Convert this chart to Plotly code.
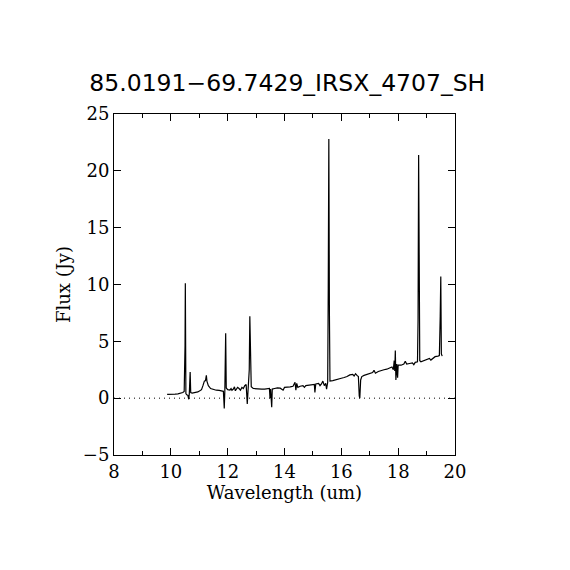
import plotly.graph_objects as go

# spectrum (wavelength in um, flux in Jy)
wave = [9.87, 9.95, 10.05, 10.15, 10.25, 10.35, 10.42, 10.47, 10.50, 10.51,
        10.52, 10.53, 10.56, 10.60, 10.63, 10.65, 10.68, 10.70, 10.75, 10.85,
        10.95, 11.02, 11.08, 11.13, 11.18, 11.22, 11.25, 11.27, 11.32, 11.40,
        11.50, 11.60, 11.70, 11.80, 11.85, 11.88, 11.90, 11.93, 11.95, 12.00,
        12.08, 12.12, 12.15, 12.20, 12.24, 12.27, 12.30, 12.35, 12.40, 12.45,
        12.50, 12.55, 12.60, 12.65, 12.69, 12.72, 12.76, 12.78, 12.80, 12.83,
        12.90, 13.00, 13.10, 13.20, 13.30, 13.40, 13.47, 13.49, 13.51, 13.55,
        13.57, 13.65, 13.75, 13.85, 13.95, 14.00, 14.10, 14.20, 14.30, 14.37,
        14.40, 14.43, 14.47, 14.55, 14.65, 14.70, 14.75, 14.85, 14.95, 15.05,
        15.07, 15.10, 15.20, 15.25, 15.30, 15.35, 15.40, 15.45, 15.48, 15.52,
        15.54, 15.56, 15.58, 15.60, 15.70, 15.80, 15.90, 16.00, 16.10, 16.20,
        16.30, 16.40, 16.45, 16.50, 16.55, 16.60, 16.63, 16.65, 16.68, 16.72,
        16.80, 16.90, 17.00, 17.10, 17.15, 17.20, 17.30, 17.40, 17.50, 17.60,
        17.70, 17.78, 17.83, 17.86, 17.88, 17.90, 17.92, 17.95, 17.98, 18.00,
        18.10, 18.20, 18.25, 18.30, 18.40, 18.50, 18.55, 18.60, 18.68, 18.70,
        18.72, 18.74, 18.76, 18.80, 18.90, 19.00, 19.10, 19.15, 19.20, 19.30,
        19.40, 19.45, 19.48, 19.50, 19.52, 19.55]
flux = [0.33, 0.32, 0.35, 0.36, 0.38, 0.42, 0.50, 0.60, 4.6, 10.1,
        4.6, 0.40, 0.30, 0.25, -0.10, 0.40, 2.3, 0.50, 0.45, 0.48,
        0.55, 0.65, 0.75, 1.1, 1.5, 1.55, 2.0, 1.5, 1.1, 0.85,
        0.75, 0.70, 0.68, 0.65, 0.60, -0.90, 0.60, 5.7, 0.90, 0.75,
        0.72, 0.85, 0.70, 0.80, 1.0, 0.65, 0.75, 0.95, 0.85, 0.70,
        0.95, 0.85, 1.1, 1.2, -0.50, 1.0, 2.5, 7.2, 2.5, 1.0,
        0.85, 0.82, 0.85, 0.80, 0.80, 0.85, 0.85, 0.0, 0.80, -0.80,
        0.80, 0.85, 0.90, 0.88, 0.70, 0.95, 0.95, 1.0, 1.05, 1.4,
        0.70, 1.3, 0.95, 1.05, 1.1, 0.95, 1.1, 1.15, 1.2, 1.2,
        0.50, 1.25, 1.3, 1.1, 1.25, 1.5, 1.1, 1.3, 0.80, 1.4,
        9.7, 22.8, 7.6, 1.5, 1.55, 1.6, 1.65, 1.75, 1.82, 1.9,
        2.05, 2.1, 1.95, 2.15, 2.0, 1.9, 0.20, 0.0, 1.6, 1.9,
        2.0, 2.1, 2.2, 2.25, 2.45, 2.2, 2.35, 2.45, 2.5, 2.55,
        2.65, 2.75, 2.5, 3.3, 2.4, 4.2, 1.6, 3.0, 1.8, 2.9,
        2.9, 3.0, 3.25, 3.0, 3.05, 3.1, 2.95, 3.15, 3.2, 6.9,
        21.4, 11.8, 3.3, 3.2, 3.3, 3.4, 3.5, 3.35, 3.45, 3.65,
        3.7, 3.75, 7.2, 10.7, 3.9, 3.7]

title = "85.0191\u221269.7429_IRSX_4707_SH"
x_ticks = [8, 10, 12, 14, 16, 18, 20]
y_ticks = [-5, 0, 5, 10, 15, 20, 25]
y_labels = ["\u22125", "0", "5", "10", "15", "20", "25"]

fig = go.Figure()
fig.add_trace(go.Scatter(x=wave, y=flux, mode="lines",
                         line=dict(color="black", width=1.2), showlegend=False))
fig.add_hline(y=0, line=dict(color="black", width=1, dash="1px,4px"))

axis_font = dict(family="DejaVu Serif", size=18, color="black")
fig.update_layout(
    width=570, height=570,
    margin=dict(l=106, r=123, t=106, b=123),
    paper_bgcolor="white", plot_bgcolor="white",
    title=dict(text=title, x=0.49, xanchor="center", y=1 - 75 / 570,
               yanchor="middle", yref="container",
               font=dict(family="DejaVu Sans", size=23.5, color="black")),
    xaxis=dict(range=[8, 20], tickvals=x_ticks, ticks="inside", ticklen=7,
               tickcolor="black", showline=True, linecolor="black", linewidth=1,
               mirror="ticks", showgrid=False, zeroline=False,
               tickfont=axis_font,
               minor=dict(dtick=1, ticks="inside", ticklen=4, tickcolor="black"),
               title=dict(text="Wavelength (um)", font=axis_font, standoff=4)),
    yaxis=dict(range=[-5, 25], tickvals=y_ticks, ticktext=y_labels,
               ticks="inside", ticklen=7, tickcolor="black", showline=True,
               linecolor="black", linewidth=1, mirror="ticks", showgrid=False,
               zeroline=False, tickfont=axis_font,
               title=dict(text="Flux (Jy)", font=axis_font, standoff=7)),
)

fig.write_html("out.html")
